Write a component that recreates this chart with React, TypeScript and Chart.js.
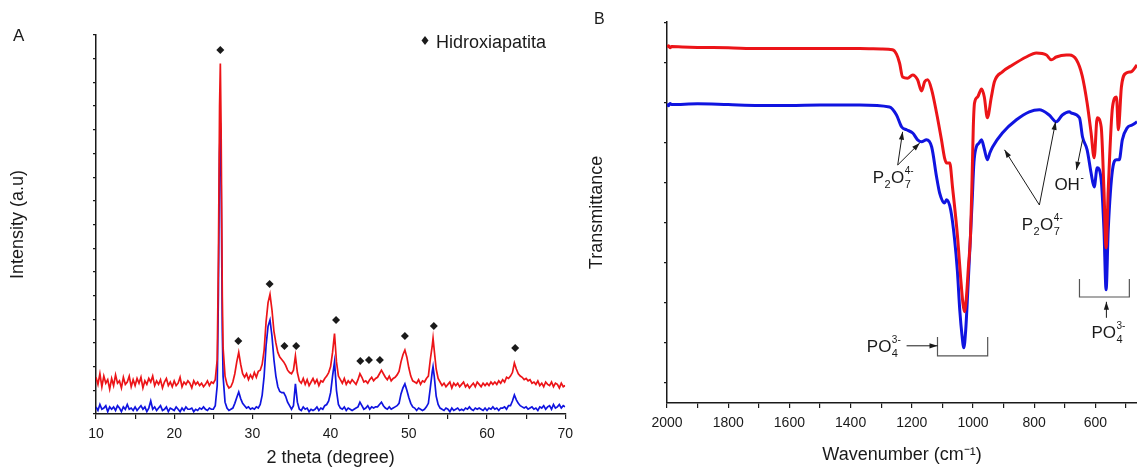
import React, { useEffect, useRef } from "react";
import { Chart, registerables } from "chart.js";

Chart.register(...registerables);

const FONT = '"Liberation Sans", Arial, Helvetica, sans-serif';
const RED = "rgb(236, 20, 24)";
const BLUE = "rgb(16, 20, 224)";
const INK = "#1a1a1a";

// ---------------- Panel A : XRD ----------------
const xrdTheta = [
  10, 10.25, 10.5, 10.75,
  11, 11.25, 11.5, 11.75,
  12, 12.25, 12.5, 12.75,
  13, 13.25, 13.5, 13.75,
  14, 14.25, 14.5, 14.75,
  15, 15.25, 15.5, 15.75,
  16, 16.25, 16.5, 16.75,
  17, 17.25, 17.5, 17.75,
  18, 18.25, 18.5, 18.75,
  19, 19.25, 19.5, 19.75,
  20, 20.25, 20.5, 20.75,
  21, 21.25, 21.5, 21.75,
  22, 22.25, 22.5, 22.75,
  23, 23.25, 23.5, 23.75,
  24, 24.25, 24.5, 24.75,
  25, 25.25, 25.5, 25.65, 25.8, 25.9, 26, 26.15, 26.25, 26.5, 26.75,
  27, 27.25, 27.5, 27.75,
  28, 28.25, 28.5, 28.75,
  29, 29.25, 29.5, 29.75,
  30, 30.25, 30.5, 30.75,
  31, 31.25, 31.5, 31.75,
  32, 32.25, 32.5, 32.75,
  33, 33.25, 33.5, 33.75,
  34, 34.25, 34.5, 34.75,
  35, 35.25, 35.5, 35.75,
  36, 36.25, 36.5, 36.75,
  37, 37.25, 37.5, 37.75,
  38, 38.25, 38.5, 38.75,
  39, 39.25, 39.5, 39.75,
  40, 40.25, 40.5, 40.75,
  41, 41.25, 41.5, 41.75,
  42, 42.25, 42.5, 42.75,
  43, 43.25, 43.5, 43.75,
  44, 44.25, 44.5, 44.75,
  45, 45.25, 45.5, 45.75,
  46, 46.25, 46.5, 46.75,
  47, 47.25, 47.5, 47.75,
  48, 48.25, 48.5, 48.75,
  49, 49.25, 49.5, 49.75,
  50, 50.25, 50.5, 50.75,
  51, 51.25, 51.5, 51.75,
  52, 52.25, 52.5, 52.75,
  53, 53.1, 53.25, 53.5, 53.75,
  54, 54.25, 54.5, 54.75,
  55, 55.25, 55.5, 55.75,
  56, 56.25, 56.5, 56.75,
  57, 57.25, 57.5, 57.75,
  58, 58.25, 58.5, 58.75,
  59, 59.25, 59.5, 59.75,
  60, 60.25, 60.5, 60.75,
  61, 61.25, 61.5, 61.75,
  62, 62.25, 62.5, 62.75,
  63, 63.25, 63.5, 63.75,
  64, 64.25, 64.5, 64.75,
  65, 65.25, 65.5, 65.75,
  66, 66.25, 66.5, 66.75,
  67, 67.25, 67.5, 67.75,
  68, 68.25, 68.5, 68.75,
  69, 69.25, 69.5, 69.75,
  70,
];

const xrdRed = [
  1.55, 1.25, 1.7, 1.15,
  1.6, 1.3, 1.45, 1.05,
  1.5, 1.2, 1.65, 1.3,
  1.4, 1.1, 1.55, 1.25,
  1.35, 1.6, 1.15, 1.45,
  1.2, 1.5, 1.3, 1.55,
  1.1, 1.4, 1.25, 1.5,
  1.35, 1.6, 1.2, 1.4,
  1.25, 1.45, 1.1, 1.35,
  1.5, 1.2, 1.35, 1.15,
  1.4, 1.2, 1.3, 1.55,
  1.15, 1.35, 1.25, 1.4,
  1.3, 1.1, 1.4, 1.25,
  1.35, 1.2, 1.3, 1.15,
  1.25, 1.4, 1.2, 1.35,
  1.3, 1.45, 2.3, 6.5, 13.0, 14.8, 12.0, 5.0, 2.8, 1.6, 1.25,
  1.1, 1.15, 1.35, 1.7,
  2.2, 2.6, 2.1, 1.7,
  1.55, 1.7, 1.45, 1.65,
  1.5, 1.75, 1.55, 1.8,
  1.85, 2.1, 2.7, 3.9,
  4.7, 5.05, 4.4, 3.5,
  3.0, 2.6, 2.4, 2.3,
  2.2, 2.05, 1.85, 1.75,
  1.7, 1.85, 2.45, 1.75,
  1.4, 1.3, 1.5, 1.25,
  1.45, 1.2, 1.35, 1.5,
  1.3, 1.45, 1.2, 1.4,
  1.35, 1.5, 1.6, 1.75,
  2.0, 2.6, 3.4, 2.2,
  1.6, 1.45, 1.3, 1.5,
  1.25, 1.4, 1.3, 1.45,
  1.35, 1.25, 1.45, 1.7,
  1.55, 1.35, 1.4, 1.3,
  1.45, 1.55, 1.4, 1.5,
  1.55, 1.7, 1.85, 1.7,
  1.55, 1.45, 1.6, 1.4,
  1.5, 1.55, 1.65, 1.8,
  2.2, 2.5, 2.7, 2.4,
  1.95, 1.6, 1.4, 1.35,
  1.3, 1.45, 1.25, 1.4,
  1.35, 1.5, 1.6, 2.3,
  2.9, 3.2, 2.7, 1.9, 1.5,
  1.35, 1.2, 1.3, 1.15,
  1.25, 1.35, 1.1, 1.3,
  1.2, 1.3, 1.15, 1.25,
  1.35, 1.15, 1.25, 1.1,
  1.2, 1.3, 1.15, 1.35,
  1.25, 1.15, 1.3, 1.2,
  1.3, 1.2, 1.35, 1.25,
  1.35, 1.25, 1.4, 1.3,
  1.45, 1.35, 1.55, 1.5,
  1.6, 1.75, 2.15, 1.9,
  1.7, 1.6, 1.55, 1.45,
  1.5, 1.4, 1.45, 1.3,
  1.35, 1.25, 1.4, 1.2,
  1.3, 1.15, 1.35, 1.25,
  1.2, 1.35, 1.15, 1.3,
  1.25, 1.1, 1.3, 1.15,
  1.2,
];

const xrdBlue = [
  0.3, 0.15, 0.4, 0.2,
  0.25, 0.35, 0.1, 0.3,
  0.2, 0.3, 0.15, 0.35,
  0.25, 0.1, 0.3, 0.2,
  0.4, 0.2, 0.25, 0.15,
  0.3, 0.15, 0.25, 0.35,
  0.2, 0.3, 0.1, 0.25,
  0.55, 0.2, 0.3, 0.15,
  0.25, 0.35, 0.15, 0.2,
  0.3, 0.1, 0.25, 0.2,
  0.15, 0.3, 0.2, 0.1,
  0.25, 0.15, 0.3, 0.2,
  0.2, 0.25, 0.1, 0.2,
  0.15, 0.25, 0.2, 0.3,
  0.2, 0.15, 0.25, 0.2,
  0.2, 0.35, 1.2, 5.0, 11.0, 12.3, 10.0, 3.5, 1.6, 0.5, 0.25,
  0.15, 0.2, 0.25, 0.45,
  0.7, 0.93, 0.65, 0.45,
  0.35, 0.25, 0.3, 0.2,
  0.25, 0.2, 0.3, 0.25,
  0.4, 0.8, 1.6, 2.9,
  3.7, 3.97, 3.3, 2.3,
  1.6, 1.15, 0.95, 0.9,
  0.9, 0.75, 0.5, 0.35,
  0.2, 0.35, 1.27, 0.5,
  0.2, 0.15, 0.3, 0.2,
  0.25, 0.1, 0.2, 0.15,
  0.2, 0.3, 0.15, 0.25,
  0.2, 0.35, 0.4, 0.55,
  0.9, 1.6, 2.2, 1.0,
  0.4, 0.25, 0.2, 0.3,
  0.15, 0.25, 0.2, 0.15,
  0.2, 0.25, 0.3, 0.5,
  0.35, 0.2, 0.25, 0.35,
  0.2, 0.3, 0.25, 0.3,
  0.3, 0.4, 0.5, 0.35,
  0.25, 0.2, 0.3, 0.2,
  0.25, 0.3, 0.35, 0.45,
  0.85, 1.1, 1.27, 1.0,
  0.7, 0.45, 0.3, 0.25,
  0.15, 0.25, 0.2, 0.15,
  0.2, 0.3, 0.45, 1.1,
  1.8, 2.0, 1.6, 0.75, 0.4,
  0.25, 0.2, 0.15, 0.25,
  0.2, 0.1, 0.25, 0.15,
  0.2, 0.25, 0.15, 0.2,
  0.15, 0.25, 0.2, 0.3,
  0.2, 0.15, 0.25, 0.2,
  0.25, 0.2, 0.15, 0.25,
  0.15, 0.25, 0.2, 0.3,
  0.2, 0.25, 0.15, 0.25,
  0.25, 0.3, 0.2, 0.35,
  0.35, 0.55, 0.8, 0.6,
  0.45, 0.35, 0.3, 0.25,
  0.3, 0.2, 0.25, 0.3,
  0.2, 0.25, 0.15, 0.3,
  0.25, 0.35, 0.2, 0.3,
  0.35, 0.2, 0.4, 0.25,
  0.3, 0.4, 0.25, 0.35,
  0.3,
];

// Hydroxyapatite reflection markers (diamonds)
const hapTheta = [25.9, 28.2, 32.2, 34.1, 35.6, 40.7, 43.8, 44.9, 46.3, 49.5, 53.2, 63.6];
const hapLevel = [15.37, 3.08, 5.49, 2.87, 2.87, 3.97, 2.24, 2.28, 2.28, 3.29, 3.71, 2.79];
const hapLegend = "Hidroxiapatita";

const xrdXTitle = "2 theta (degree)";
const xrdYTitle = "Intensity (a.u)";

// ---------------- Panel B : FTIR ----------------
const redWn = [
  2000, 1995, 1990, 1985, 1950, 1900, 1800, 1700, 1600, 1500, 1400, 1370, 1300, 1263,
  1250, 1240, 1230, 1214, 1197, 1181, 1168, 1158, 1148, 1135, 1119, 1103, 1093, 1086,
  1076, 1067, 1051, 1040, 1033, 1028, 1022, 1015, 1008, 1003, 999, 995, 985, 972, 963,
  953, 940, 930, 904, 871, 826, 793, 760, 744, 728, 695, 685, 662, 643, 627, 614, 604,
  594, 581, 572, 565, 558, 544, 531, 525, 515, 499, 483, 464,
];
const redT = [
  8.9, 8.93, 8.88, 8.91, 8.9, 8.89, 8.88, 8.86, 8.86, 8.86, 8.86, 8.86, 8.85, 8.83,
  8.72, 8.5, 8.15, 8.12, 8.2, 8.08, 7.8, 8.03, 8.08, 7.83, 7.25, 6.58, 6.13, 6.0,
  6.0, 5.4, 4.2, 3.1, 2.5, 2.28, 2.6, 3.4, 4.2, 5.6, 6.9, 7.5, 7.65, 7.85, 7.65,
  7.13, 7.65, 8.03, 8.28, 8.45, 8.65, 8.75, 8.7, 8.58, 8.65, 8.7, 8.7, 8.58, 8.18, 7.5, 6.75, 6.13,
  7.13, 6.9, 5.33, 3.88, 5.33, 7.4, 7.65, 6.83, 7.9, 8.25, 8.28, 8.45,
];

const blueWn = [
  2000, 1995, 1990, 1985, 1900, 1800, 1700, 1600, 1500, 1400, 1370, 1273,
  1250, 1233, 1217, 1197, 1181, 1168, 1152, 1135, 1119, 1109, 1093, 1086, 1073,
  1060, 1051, 1043, 1036, 1030, 1024, 1017, 1010, 1003, 997, 990, 980, 972, 963, 953,
  945, 936, 904, 858, 816, 783, 751, 728, 708, 685, 679, 652, 642, 627, 614, 604,
  594, 581, 572, 565, 558, 544, 531, 522, 512, 496, 480, 464,
];
const blueT = [
  7.48, 7.43, 7.49, 7.46, 7.48, 7.46, 7.44, 7.44, 7.45, 7.45, 7.45, 7.4,
  7.2, 6.9, 6.83, 6.75, 6.58, 6.53, 6.58, 6.4, 5.65, 5.25, 5.0, 5.08, 4.83,
  4.08, 3.3, 2.3, 1.7, 1.38, 1.8, 2.8, 3.9, 5.0, 6.0, 6.38, 6.5, 6.58, 6.35, 6.08,
  6.25, 6.4, 6.75, 7.08, 7.28, 7.33, 7.2, 7.03, 7.2, 7.28, 7.25, 7.13, 6.65, 6.33, 5.75, 5.4,
  5.88, 5.58, 4.33, 2.83, 4.33, 5.83, 6.08, 6.08, 6.58, 6.88, 6.95, 7.03,
];

const ftirXTitle = "Wavenumber (cm\u207B\u00B9)";
const ftirYTitle = "Transmittance";

// Band labels: text tokens, anchor (wavenumber, transmittance) of left baseline
type Tok = { t?: string; sup?: string; sub?: string };
const tokP2O7: Tok[] = [{ t: "P" }, { sub: "2" }, { t: "O" }, { sup: "4-", sub: "7" }];
const tokOH: Tok[] = [{ t: "OH" }, { sup: "-" }];
const tokPO4: Tok[] = [{ t: "PO" }, { sup: "3-", sub: "4" }];
const bandLabelTokens = [tokP2O7, tokOH, tokP2O7, tokPO4, tokPO4];
const bandLabelWn = [1328, 734, 841, 1347, 613];
const bandLabelT = [5.5, 5.33, 4.33, 1.28, 1.63];

// Arrows: from (wn, T) to (wn, T), head at the end
const arrowFromWn = [1246, 1246, 642, 783, 783, 1217, 564];
const arrowFromT = [5.95, 5.95, 6.58, 4.95, 4.95, 1.43, 2.13];
const arrowToWn = [1230, 1174, 662, 897, 730, 1116, 564];
const arrowToT = [6.78, 6.5, 5.83, 6.33, 7.03, 1.43, 2.53];

// Brackets under PO4 bands
const bracketLeftWn = [1116, 652];
const bracketRightWn = [952, 489];
const bracketTopT = [1.65, 3.1];
const bracketBottomT = [1.18, 2.65];

const ftirYTickValues = [0.5, 1.5, 2.5, 3.5, 4.5, 5.5, 6.5, 7.5, 8.5, 9.5];
const ftirXTickValues = [2000, 1900, 1800, 1700, 1600, 1500, 1400, 1300, 1200, 1100, 1000, 900, 800, 700, 600, 500];

// ---------------- helpers ----------------
function drawDiamond(ctx: CanvasRenderingContext2D, x: number, y: number, hw: number, hh: number) {
  ctx.beginPath();
  ctx.moveTo(x, y - hh);
  ctx.lineTo(x + hw, y);
  ctx.lineTo(x, y + hh);
  ctx.lineTo(x - hw, y);
  ctx.closePath();
  ctx.fill();
}

function drawArrow(ctx: CanvasRenderingContext2D, x1: number, y1: number, x2: number, y2: number) {
  ctx.beginPath();
  ctx.moveTo(x1, y1);
  ctx.lineTo(x2, y2);
  ctx.stroke();
  const a = Math.atan2(y2 - y1, x2 - x1);
  const L = 8;
  const W = 2.6;
  ctx.beginPath();
  ctx.moveTo(x2, y2);
  ctx.lineTo(x2 - L * Math.cos(a) + W * Math.sin(a), y2 - L * Math.sin(a) - W * Math.cos(a));
  ctx.lineTo(x2 - L * Math.cos(a) - W * Math.sin(a), y2 - L * Math.sin(a) + W * Math.cos(a));
  ctx.closePath();
  ctx.fill();
}

function drawTokens(ctx: CanvasRenderingContext2D, toks: Tok[], x: number, y: number) {
  let cx = x;
  for (const tk of toks) {
    if (tk.t) {
      ctx.font = `17px ${FONT}`;
      ctx.fillText(tk.t, cx, y);
      cx += ctx.measureText(tk.t).width;
    } else {
      ctx.font = `10px ${FONT}`;
      let w = 0;
      if (tk.sup) {
        ctx.fillText(tk.sup, cx + 0.5, y - 9);
        w = Math.max(w, ctx.measureText(tk.sup).width);
      }
      if (tk.sub) {
        ctx.font = `11px ${FONT}`;
        ctx.fillText(tk.sub, cx + 0.5, y + 5);
        w = Math.max(w, ctx.measureText(tk.sub).width);
      }
      cx += w + 1;
    }
  }
}

const xrdDecor = {
  id: "xrdDecor",
  afterDraw(chart: any) {
    const ctx = chart.ctx as CanvasRenderingContext2D;
    ctx.save();
    ctx.fillStyle = INK;
    ctx.textBaseline = "alphabetic";
    ctx.font = `17px ${FONT}`;
    ctx.fillText("A", 13, 41);
    drawDiamond(ctx, 425, 40.5, 3.5, 4.5);
    ctx.font = `18px ${FONT}`;
    ctx.fillText(hapLegend, 436, 48);
    ctx.restore();
  },
};

const ftirDecor = {
  id: "ftirDecor",
  afterDraw(chart: any) {
    const ctx = chart.ctx as CanvasRenderingContext2D;
    const xs = chart.scales.x;
    const ys = chart.scales.y;
    const px = (v: number) => xs.getPixelForValue(v);
    const py = (v: number) => ys.getPixelForValue(v);
    ctx.save();
    ctx.fillStyle = INK;
    ctx.textBaseline = "alphabetic";
    ctx.font = `16px ${FONT}`;
    ctx.fillText("B", 14, 24);

    // brackets
    ctx.strokeStyle = "#555";
    ctx.lineWidth = 1.2;
    for (let i = 0; i < bracketLeftWn.length; i++) {
      const l = px(bracketLeftWn[i]);
      const r = px(bracketRightWn[i]);
      const t = py(bracketTopT[i]);
      const b = py(bracketBottomT[i]);
      ctx.beginPath();
      ctx.moveTo(l, t);
      ctx.lineTo(l, b);
      ctx.lineTo(r, b);
      ctx.lineTo(r, t);
      ctx.stroke();
    }

    // arrows
    ctx.strokeStyle = INK;
    ctx.lineWidth = 1;
    for (let i = 0; i < arrowFromWn.length; i++) {
      drawArrow(ctx, px(arrowFromWn[i]), py(arrowFromT[i]), px(arrowToWn[i]), py(arrowToT[i]));
    }

    // labels
    for (let i = 0; i < bandLabelTokens.length; i++) {
      drawTokens(ctx, bandLabelTokens[i], px(bandLabelWn[i]), py(bandLabelT[i]));
    }
    ctx.restore();
  },
};

function XrdPanel() {
  const ref = useRef<HTMLCanvasElement | null>(null);
  useEffect(() => {
    if (!ref.current) return;
    const chart = new Chart(ref.current, {
      type: "line",
      data: {
        datasets: [
          {
            label: hapLegend,
            data: hapTheta.map((t, i) => ({ x: t, y: hapLevel[i] })),
            showLine: false,
            pointStyle: "rectRot",
            pointRadius: 4,
            pointBackgroundColor: INK,
            pointBorderColor: INK,
            pointBorderWidth: 0,
          },
          {
            label: "red",
            data: xrdTheta.map((t, i) => ({ x: t, y: xrdRed[i] })),
            borderColor: RED,
            borderWidth: 1.7,
            pointRadius: 0,
            tension: 0,
          },
          {
            label: "blue",
            data: xrdTheta.map((t, i) => ({ x: t, y: xrdBlue[i] })),
            borderColor: BLUE,
            borderWidth: 1.7,
            pointRadius: 0,
            tension: 0,
          },
        ],
      },
      options: {
        animation: false,
        responsive: false,
        devicePixelRatio: 1,
        layout: { padding: { top: 35, right: 13, left: 0, bottom: 0 } },
        plugins: { legend: { display: false }, tooltip: { enabled: false } },
        scales: {
          x: {
            type: "linear",
            min: 10,
            max: 70,
            afterFit: (s: any) => {
              s.height = 56;
            },
            ticks: {
              stepSize: 5,
              autoSkip: false,
              maxRotation: 0,
              padding: 7,
              color: INK,
              font: { family: FONT, size: 14 },
              callback: (v: any) => (Number(v) % 10 === 0 ? String(v) : ""),
            },
            grid: { drawOnChartArea: false, drawTicks: true, tickLength: 5, color: INK, lineWidth: 1.2 },
            border: { display: true, color: INK, width: 1.5 },
            title: {
              display: true,
              text: xrdXTitle,
              color: INK,
              font: { family: FONT, size: 18 },
              padding: { top: 0, bottom: 1 },
            },
          },
          y: {
            type: "linear",
            min: 0,
            max: 16,
            afterFit: (s: any) => {
              s.width = 96;
            },
            ticks: { stepSize: 1, display: false },
            grid: { drawOnChartArea: false, drawTicks: true, tickLength: 3, color: INK, lineWidth: 1.2 },
            border: { display: true, color: INK, width: 1.5 },
            title: {
              display: true,
              text: xrdYTitle,
              color: INK,
              font: { family: FONT, size: 18 },
              padding: { top: 7, bottom: 0 },
            },
          },
        },
      },
      plugins: [xrdDecor],
    } as any);
    return () => chart.destroy();
  }, []);
  return <canvas ref={ref} width={580} height={470} style={{ width: 580, height: 470, display: "block" }} />;
}

function FtirPanel() {
  const ref = useRef<HTMLCanvasElement | null>(null);
  useEffect(() => {
    if (!ref.current) return;
    const chart = new Chart(ref.current, {
      type: "line",
      data: {
        datasets: [
          {
            label: "red",
            data: redWn.map((w, i) => ({ x: w, y: redT[i] })),
            borderColor: RED,
            borderWidth: 3,
            pointRadius: 0,
            cubicInterpolationMode: "monotone",
          },
          {
            label: "blue",
            data: blueWn.map((w, i) => ({ x: w, y: blueT[i] })),
            borderColor: BLUE,
            borderWidth: 3,
            pointRadius: 0,
            cubicInterpolationMode: "monotone",
          },
        ],
      },
      options: {
        animation: false,
        responsive: false,
        devicePixelRatio: 1,
        layout: { padding: { top: 22, right: 0, left: 0, bottom: 0 } },
        plugins: { legend: { display: false }, tooltip: { enabled: false } },
        scales: {
          x: {
            type: "linear",
            reverse: true,
            min: 464,
            max: 2000,
            afterFit: (s: any) => {
              s.height = 67;
            },
            afterBuildTicks: (s: any) => {
              s.ticks = ftirXTickValues.map((v) => ({ value: v }));
            },
            ticks: {
              autoSkip: false,
              maxRotation: 0,
              padding: 7,
              color: INK,
              font: { family: FONT, size: 14 },
              callback: (v: any) => (Number(v) % 200 === 0 ? String(v) : ""),
            },
            grid: { drawOnChartArea: false, drawTicks: true, tickLength: 5, color: INK, lineWidth: 1.2 },
            border: { display: true, color: INK, width: 1.5 },
            title: {
              display: true,
              text: ftirXTitle,
              color: INK,
              font: { family: FONT, size: 18 },
              padding: { top: 0, bottom: 4 },
            },
          },
          y: {
            type: "linear",
            min: 0,
            max: 9.525,
            afterFit: (s: any) => {
              s.width = 87;
            },
            afterBuildTicks: (s: any) => {
              s.ticks = ftirYTickValues.map((v) => ({ value: v }));
            },
            ticks: { display: false },
            grid: { drawOnChartArea: false, drawTicks: true, tickLength: 3, color: INK, lineWidth: 1.2 },
            border: { display: true, color: INK, width: 1.5 },
            title: {
              display: true,
              text: ftirYTitle,
              color: INK,
              font: { family: FONT, size: 18 },
              padding: { top: 6, bottom: 0 },
            },
          },
        },
      },
      plugins: [ftirDecor],
    } as any);
    return () => chart.destroy();
  }, []);
  return <canvas ref={ref} width={557} height={470} style={{ width: 557, height: 470, display: "block" }} />;
}

export default function App() {
  return (
    <div style={{ position: "absolute", left: 0, top: 0, width: 1137, height: 470, background: "#fff" }}>
      <div style={{ position: "absolute", left: 0, top: 0 }}>
        <XrdPanel />
      </div>
      <div style={{ position: "absolute", left: 580, top: 0 }}>
        <FtirPanel />
      </div>
    </div>
  );
}
